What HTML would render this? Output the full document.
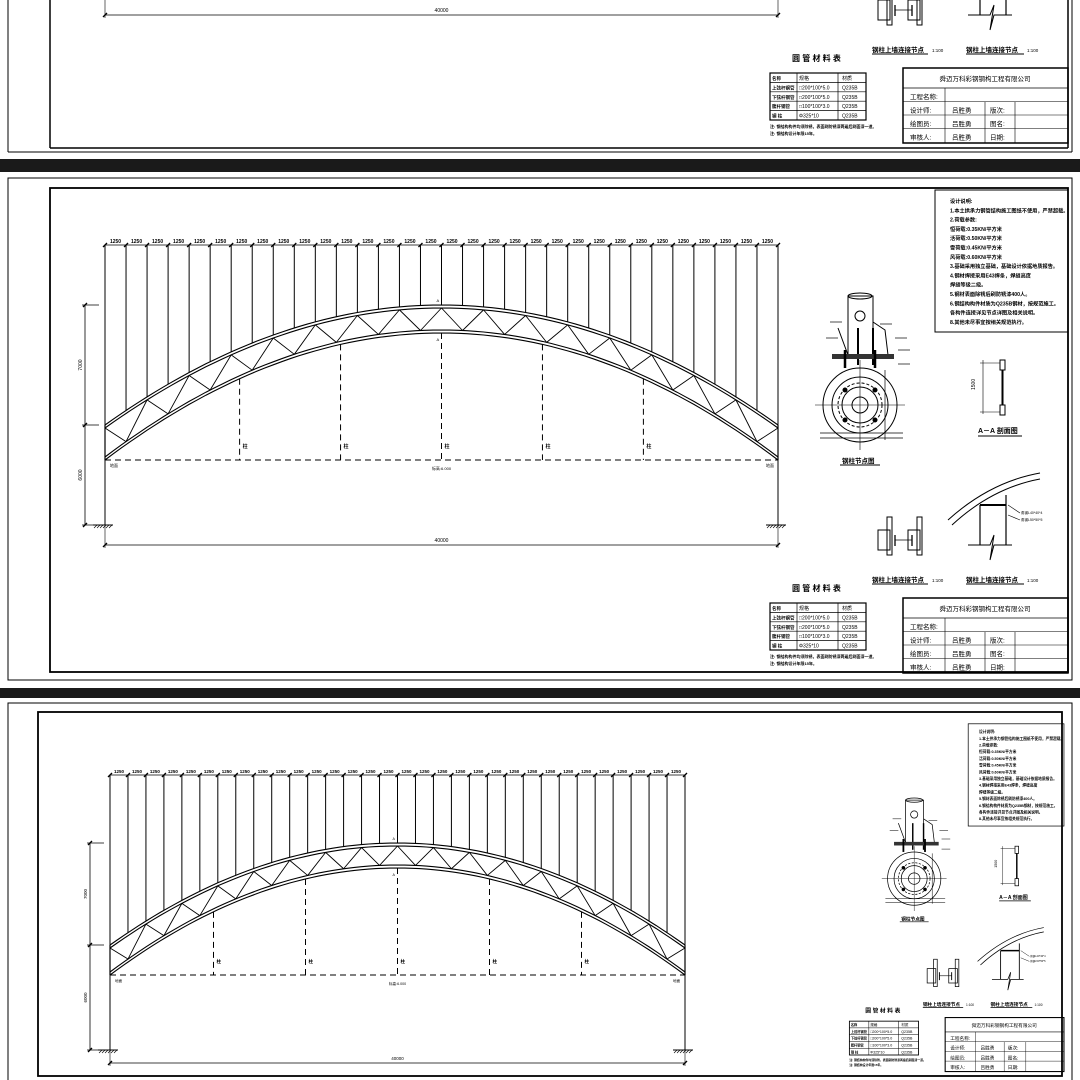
<!DOCTYPE html>
<html><head><meta charset="utf-8">
<style>
html,body{margin:0;padding:0;background:#fff;}
svg{display:block;}
text{font-family:"Liberation Sans","Noto Sans CJK SC",sans-serif;fill:#000;}
</style></head>
<body>
<svg id="s" width="1080" height="1080" viewBox="0 0 1080 1080" xmlns="http://www.w3.org/2000/svg">
<rect width="1080" height="1080" fill="#fff"/>
</svg>
<script>
const NS="http://www.w3.org/2000/svg";
const S=document.getElementById('s');
function el(p,tag,a,txt){const e=document.createElementNS(NS,tag);for(const k in a)e.setAttribute(k,a[k]);if(txt!==undefined)e.textContent=txt;p.appendChild(e);return e;}
function L(g,x1,y1,x2,y2,w,dash){const a={x1,y1,x2,y2,stroke:'#000','stroke-width':w||1};if(dash)a['stroke-dasharray']=dash;return el(g,'line',a);}
function T(g,x,y,s,t,extra){const a=Object.assign({x,y,'font-size':s},extra||{});return el(g,'text',a,t);}

function arch(g,p){
 const {x0,x1,yTop,aT,eT,aB,eB,base,ground,dimY,cols}=p;
 const xc=(x0+x1)/2,h=(x1-x0)/2;
 const top=x=>aT+(eT-aT)*Math.pow((x-xc)/h,2);
 const bot=x=>aB+(eB-aB)*Math.pow((x-xc)/h,2);
 const path=(f,off)=>{let d='';for(let i=0;i<=80;i++){const x=x0+(x1-x0)*i/80;d+=(i?'L':'M')+x.toFixed(1)+','+(f(x)+off).toFixed(1);}return d;};
 [[top,0],[top,3],[bot,0],[bot,-3]].forEach(([f,o])=>el(g,'path',{d:path(f,o),fill:'none',stroke:'#000','stroke-width':1.1}));
 L(g,x0,top(x0),x0,bot(x0),1.2);L(g,x1,top(x1),x1,bot(x1),1.2);
 const n=32,w=(x1-x0)/n;
 // web: zigzag with period 2w
 for(let i=0;i<n;i+=2){
  const xa=x0+i*w,xm=xa+w,xb=xa+2*w;
  L(g,xa,top(xa)+3,xm,bot(xm)-3,0.9);
  L(g,xm,bot(xm)-3,xb,top(xb)+3,0.9);
 }
 for(let i=0;i<=n;i++){const x=x0+i*w;L(g,x,yTop,x,top(x),1);
  L(g,x-2,yTop+2,x+2,yTop-2,1.3);
  if(i<n)T(g,x+w/2,yTop-2,p.fs,'1250',{'text-anchor':'middle','font-weight':'bold'});}
 L(g,x0,yTop,x1,yTop,0.8);
 L(g,x0,base,x1,base,1,'6,4');
 cols.forEach(f=>{const x=x0+(x1-x0)*f;L(g,x,bot(x),x,base,1,'6,4');T(g,x+3,base-12,p.fs,'柱',{'font-weight':'bold'});});
 T(g,xc,base+10,p.fs*0.8,'标高:6.000',{'text-anchor':'middle'});
 L(g,x0,base,x0,ground,1);L(g,x1,base,x1,ground,1);
 T(g,x0+5,base+7,p.fs*0.8,'地面');T(g,x1-12,base+7,p.fs*0.8,'地面');
 for(const x of [x0,x1]){L(g,x-12,ground,x+8,ground,1);for(let k=0;k<6;k++)L(g,x-11+k*3,ground+3,x-8+k*3,ground,0.6);}
 L(g,x0,dimY,x1,dimY,0.8);L(g,x0,ground,x0,dimY+3,0.6);L(g,x1,ground,x1,dimY+3,0.6);
 L(g,x0-2,dimY+2,x0+2,dimY-2,1.3);L(g,x1-2,dimY+2,x1+2,dimY-2,1.3);
 T(g,xc,dimY-3,p.fs,'40000',{'text-anchor':'middle'});
 const dx=x0-20;L(g,dx,aT,dx,ground,0.8);
 [aT,top(x0),ground].forEach(y=>{L(g,dx-3,y,x0-6,y,0.7);L(g,dx-2,y+2,dx+2,y-2,1.3);});
 const r1=(aT+top(x0))/2,r2=(top(x0)+ground)/2;
 T(g,dx-3,r1,p.fs,'7000',{transform:`rotate(-90 ${dx-3} ${r1})`,'text-anchor':'middle'});
 T(g,dx-3,r2,p.fs,'6000',{transform:`rotate(-90 ${dx-3} ${r2})`,'text-anchor':'middle'});
 T(g,xc-5,aT-3,p.fs*0.8,'A',{});T(g,xc-5,aB+8,p.fs*0.8,'A',{});
}

function side(g){
 el(g,'rect',{x:935,y:190,width:133,height:142,fill:'none',stroke:'#000','stroke-width':1});
 const notes=['设计说明:','1.本土拱承力钢管结构施工图纸不使用，严禁超载。','2.荷载参数:','      恒荷载:0.35KN/平方米','      活荷载:0.50KN/平方米','      雪荷载:0.45KN/平方米','      风荷载:0.60KN/平方米','3.基础采用独立基础，基础设计依据地质报告。','4.钢材焊接采用E43焊条，焊缝高度','  焊缝等级二级。','5.钢材表面除锈后刷防锈漆400人。','6.钢结构构件材质为Q235B钢材，按规范施工。','  各构件连接详见节点详图及相关说明。','8.其他未尽事宜按相关规范执行。'];
 notes.forEach((t,i)=>T(g,950,203+i*9.3,5.2,t,{'font-weight':'bold'}));
 el(g,'rect',{x:848,y:296,width:25,height:60,fill:'none',stroke:'#000'});
 el(g,'ellipse',{cx:860,cy:296,rx:12,ry:3,fill:'none',stroke:'#000'});
 el(g,'circle',{cx:860,cy:316,r:5,fill:'none',stroke:'#000'});
 L(g,858,328,858,365,2);L(g,873,328,873,365,2);
 el(g,'path',{d:'M838,328 L848,355 M873,322 L885,330 L888,355',fill:'none',stroke:'#000'});
 el(g,'rect',{x:832,y:354,width:62,height:5,fill:'#333'});
 L(g,845,350,845,368,2.5);L(g,875,350,875,368,2.5);
 [[830,322],[826,338],[880,324],[895,338],[898,350],[898,364]].forEach(([x,y])=>{L(g,x,y,x+12,y,0.7);});
 const cx=860,cy=405;
 [37,28,18,8].forEach(r=>el(g,'circle',{cx,cy,r,fill:'none',stroke:'#000'}));
 el(g,'circle',{cx,cy,r:22,fill:'none',stroke:'#000','stroke-dasharray':'3,2'});
 L(g,cx-45,cy,cx+45,cy,0.6);L(g,cx,cy-45,cx,cy+45,0.6);
 for(const [a,b] of [[-15,-15],[15,-15],[-15,15],[15,15]])el(g,'circle',{cx:cx+a,cy:cy+b,r:2.5,fill:'#000'});
 L(g,885,370,885,440,0.7);L(g,820,433,903,433,0.7);L(g,820,438,903,438,0.7);
 T(g,842,463,6.5,'钢柱节点图',{'font-weight':'bold'});L(g,840,465,880,465,1);
 el(g,'rect',{x:1000,y:360,width:5,height:10,fill:'none',stroke:'#000'});
 el(g,'rect',{x:1000,y:405,width:5,height:10,fill:'none',stroke:'#000'});
 L(g,1002.5,370,1002.5,405,2);L(g,980,363,1000,363,0.6);L(g,980,412,1000,412,0.6);L(g,983,360,983,414,0.6);
 T(g,975,390,5,'1500',{transform:'rotate(-90 975 390)'});
 T(g,978,433,7,'A－A 剖面图',{'font-weight':'bold'});L(g,978,436,1022,436,1);
 el(g,'rect',{x:878,y:530,width:12,height:20,fill:'none',stroke:'#000'});
 el(g,'rect',{x:908,y:530,width:12,height:20,fill:'none',stroke:'#000'});
 el(g,'rect',{x:887,y:517,width:5,height:38,fill:'none',stroke:'#000'});
 el(g,'rect',{x:917,y:517,width:5,height:38,fill:'none',stroke:'#000'});
 L(g,895,535,895,546,1.3);L(g,895,540,912,540,0.8);L(g,912,535,912,546,1.3);
 T(g,872,582,6.5,'钢柱上墙连接节点',{'font-weight':'bold'});L(g,872,584,928,584,1);T(g,932,582,4.5,'1:100');
 el(g,'path',{d:'M948,520 Q990,482 1040,473 M952,525 Q992,488 1040,479',fill:'none',stroke:'#000'});
 L(g,980,505,980,545,1.2);L(g,1006,495,1006,545,1.2);L(g,980,505,1006,505,2);
 el(g,'path',{d:'M968,545 L990,545 L994,535 L990,560 L994,545 L1012,545',fill:'none',stroke:'#000'});
 L(g,1008,505,1020,513,0.6);L(g,1008,515,1020,520,0.6);
 T(g,1021,514,3.5,'角钢L40*40*4');T(g,1021,521,3.5,'角钢L50*50*5');
 T(g,966,582,6.5,'钢柱上墙连接节点',{'font-weight':'bold'});L(g,966,584,1024,584,1);T(g,1027,582,4.5,'1:100');
 T(g,792,591,8,'圆 管 材 料 表',{'font-weight':'bold'});
 el(g,'rect',{x:770,y:603,width:96,height:47,fill:'none',stroke:'#000','stroke-width':1.2});
 for(let i=1;i<5;i++)L(g,770,603+i*9.4,866,603+i*9.4,0.7);
 L(g,797,603,797,650,0.7);L(g,838,603,838,650,0.7);
 const rows=[['名称','规格','材质'],['上弦杆钢管','□200*100*5.0','Q235B'],['下弦杆钢管','□200*100*5.0','Q235B'],['腹杆钢管','□100*100*3.0','Q235B'],['钢 柱','Φ325*10','Q235B']];
 rows.forEach((r,i)=>{const y=610+i*9.4;T(g,772,y,4.5,r[0],{'font-weight':'bold'});T(g,799,y,5,r[1]);T(g,842,y,5,r[2]);});
 T(g,770,658,4,'注: 钢结构构件均须除锈，表面刷防锈漆两遍后刷面漆一道。',{'font-weight':'bold'});
 T(g,770,665,4,'注: 钢结构设计年限15年。',{'font-weight':'bold'});
 el(g,'rect',{x:903,y:598,width:165,height:75,fill:'none',stroke:'#000','stroke-width':1.5});
 L(g,903,618,1068,618,0.8);
 for(let i=1;i<4;i++)L(g,903,618+i*13.5,1068,618+i*13.5,0.6);
 L(g,945,618,945,673,0.6);L(g,985,632,985,673,0.6);L(g,1015,632,1015,673,0.6);
 T(g,985,611,6.5,'舜迈万科彩钢钢构工程有限公司',{'text-anchor':'middle'});
 [['工程名称:'],['设计师:','吕胜勇','版次:'],['绘图员:','吕胜勇','图名:'],['审核人:','吕胜勇','日期:']].forEach((r,i)=>{const y=629+i*13.5;T(g,910,y,6.5,r[0]);if(r[1]){T(g,952,y,6.5,r[1]);T(g,990,y,6.5,r[2]);}});
}

function panel2(g){
 arch(g,{x0:105,x1:778,yTop:245,aT:305,eT:425,aB:333,eB:460,base:460,ground:525,dimY:545,cols:[0.2,0.35,0.5,0.65,0.8],fs:5});
 side(g);
}

const c1=el(S,'clipPath',{id:'c1'});el(c1,'rect',{x:0,y:0,width:1080,height:158});
const g1=el(S,'g',{'clip-path':'url(#c1)'});
const g1i=el(g1,'g',{transform:'translate(0,-530)'});
panel2(g1i);
L(S,50,0,50,148,1.5);L(S,50,148,1068,148,1.5);L(S,1068,0,1068,148,1.5);
L(S,8,0,8,152,1);L(S,8,152,1072,152,1);L(S,1072,0,1072,152,1);
el(S,'rect',{x:0,y:159,width:1080,height:13,fill:'#1a1a1a'});

el(S,'rect',{x:8,y:178,width:1064,height:502,fill:'none',stroke:'#000','stroke-width':1});
el(S,'rect',{x:50,y:188,width:1018,height:484,fill:'none',stroke:'#000','stroke-width':1.8});
const g2=el(S,'g',{});panel2(g2);

el(S,'rect',{x:0,y:688,width:1080,height:10,fill:'#1a1a1a'});

el(S,'rect',{x:8,y:703,width:1064,height:380,fill:'none',stroke:'#000','stroke-width':1});
el(S,'rect',{x:38,y:712,width:1024,height:364,fill:'none',stroke:'#000','stroke-width':1.8});
const g3=el(S,'g',{});
arch(g3,{x0:110,x1:685,yTop:775,aT:843,eT:945,aB:868,eB:975,base:975,ground:1050,dimY:1063,cols:[0.18,0.34,0.5,0.66,0.82],fs:4.5});
const g3s=el(S,'g',{transform:'translate(295,587) scale(0.72)'});side(g3s);
</script>
</body></html>
